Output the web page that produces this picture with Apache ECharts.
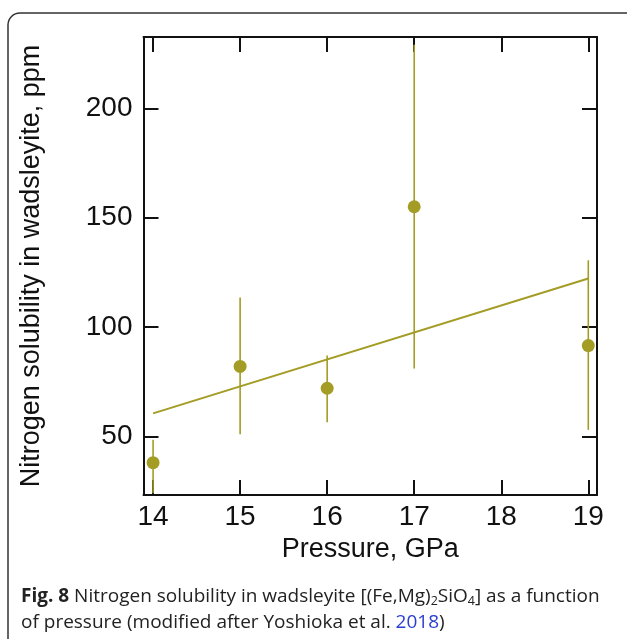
<!DOCTYPE html>
<html>
<head>
<meta charset="utf-8">
<script src="https://cdn.jsdelivr.net/npm/echarts@6/dist/echarts.min.js"></script>
<style>html,body{margin:0;padding:0;background:#fff}#c{width:627px;height:639px}</style>
</head>
<body>
<div id="c"></div>
<script>
const pressure = [14, 15, 16, 17, 19];
const solubility = [38, 82, 72, 155, 91.5];
const errLow = [24, 51, 56.5, 81, 53];
const errHigh = [48.5, 113.5, 87, 229, 130.5];
const fitX = [14, 19];
const fitY = [60.5, 122.2];
const xTicks = [14, 15, 16, 17, 18, 19];
const yTicks = [50, 100, 150, 200];
const xRange = [13.89, 19.1];
const yRange = [23.2, 232.6];

const olive = '#a39c25';
const chart = echarts.init(document.getElementById('c'));
const axisLine = {show: true, lineStyle: {color: '#111', width: 2}};
const tick = (vals) => ({show: true, inside: true, length: 15, customValues: vals, lineStyle: {color: '#111', width: 2}});
const labelFont = {fontFamily: 'Liberation Sans', fontSize: 28, color: '#111'};

chart.setOption({
  animation: false,
  grid: {left: 143.5, top: 37, right: 30, bottom: 144},
  xAxis: [
    {type: 'value', min: xRange[0], max: xRange[1], position: 'bottom',
     axisLine, axisTick: tick(xTicks), splitLine: {show: false},
     axisLabel: Object.assign({customValues: xTicks, margin: 8}, labelFont),
     name: 'Pressure, GPa', nameLocation: 'middle', nameGap: 40,
     nameTextStyle: Object.assign({}, labelFont, {fontSize: 27})},
    {type: 'value', min: xRange[0], max: xRange[1], position: 'top',
     axisLine, axisTick: tick(xTicks), splitLine: {show: false}, axisLabel: {show: false}}
  ],
  yAxis: [
    {type: 'value', min: yRange[0], max: yRange[1], position: 'left',
     axisLine, axisTick: tick(yTicks), splitLine: {show: false},
     axisLabel: Object.assign({customValues: yTicks, margin: 11}, labelFont),
     name: 'Nitrogen solubility in wadsleyite, ppm', nameLocation: 'middle', nameGap: 98,
     nameTextStyle: Object.assign({}, labelFont, {fontSize: 27})},
    {type: 'value', min: yRange[0], max: yRange[1], position: 'right',
     axisLine, axisTick: tick(yTicks), splitLine: {show: false}, axisLabel: {show: false}}
  ],
  series: [
    {type: 'custom', xAxisIndex: 0, yAxisIndex: 0, clip: true,
     data: pressure.map((p, i) => [p, errLow[i], errHigh[i]]),
     renderItem: (params, api) => {
       const a = api.coord([api.value(0), api.value(1)]);
       const b = api.coord([api.value(0), api.value(2)]);
       return {type: 'line', shape: {x1: a[0], y1: a[1], x2: b[0], y2: b[1]},
               style: {stroke: olive, lineWidth: 1.6}};
     }},
    {type: 'line', data: fitX.map((x, i) => [x, fitY[i]]), showSymbol: false,
     lineStyle: {color: olive, width: 2}, z: 3},
    {type: 'scatter', data: pressure.map((p, i) => [p, solubility[i]]),
     symbolSize: 13, itemStyle: {color: olive, opacity: 1}, z: 4}
  ],
  graphic: [
    {type: 'rect', shape: {x: 8, y: 13, width: 660, height: 700, r: 12},
     style: {fill: 'none', stroke: '#333', lineWidth: 1.5}, silent: true},
    {type: 'text', left: 21, top: 584,
     style: {
       text: '{b|Fig. 8} Nitrogen solubility in wadsleyite [(Fe,Mg){s|2}SiO{s|4}] as a function\nof pressure (modified after Yoshioka et al. {l|2018})',
       font: '19px "Open Sans"', fill: '#222', lineHeight: 26,
       rich: {
         b: {fontWeight: 'bold', fontSize: 19, fontFamily: 'Open Sans', fill: '#222'},
         s: {fontSize: 12.5, fontFamily: 'Open Sans', fill: '#222', padding: [9, 0, 0, 0]},
         l: {fontSize: 19, fontFamily: 'Open Sans', fill: '#2a3fd0'}
       }
     }}
  ]
});
</script>
</body>
</html>
